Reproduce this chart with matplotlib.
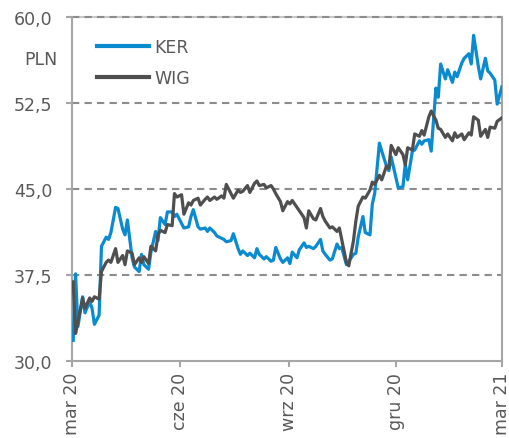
#!/usr/bin/env python3

import pandas as pd
import matplotlib
matplotlib.use("Agg")
import matplotlib.pyplot as plt
from matplotlib.ticker import FuncFormatter

# every second trading day, Mar 2020 - Mar 2021
dates = pd.bdate_range("2020-03-02", "2021-03-01")[::2]

ker = [31.8, 37.6, 33.0, 35.6, 34.2, 35.2, 34.6, 33.2, 34.0, 40.0,
       40.8, 40.6, 41.2, 43.4, 43.3, 41.5, 41.0, 42.3, 39.0, 38.2,
       37.8, 39.3, 38.4, 38.0, 39.5, 41.3, 40.5, 42.5, 41.9, 43.0,
       43.0, 42.6, 42.8, 42.0, 41.6, 41.7, 42.6, 43.2, 41.7, 41.5,
       41.6, 41.3, 41.6, 41.2, 40.9, 40.7, 40.6, 40.4, 40.5, 41.1,
       39.8, 39.3, 39.6, 39.2, 39.4, 39.0, 39.8, 39.3, 38.9, 39.1,
       38.7, 38.8, 39.9, 38.9, 38.6, 39.0, 38.5, 39.5, 39.0, 39.7,
       40.3, 39.9, 40.0, 39.8, 40.0, 40.6, 39.6, 39.3, 38.8, 38.9,
       40.2, 39.8, 39.9, 38.4, 38.7, 39.3, 39.4, 40.8, 42.6, 41.2,
       41.0, 43.7, 44.6, 49.0, 48.3, 47.0, 46.6, 47.8, 46.0, 45.1,
       45.2, 47.2, 45.8, 48.3, 48.4, 49.2, 48.9, 49.2, 49.3, 48.3,
       53.8, 53.0, 55.9, 54.6, 55.4, 54.3, 55.2, 54.8, 56.0, 56.4,
       56.8, 55.9, 58.4, 55.7, 54.6, 56.4, 55.3, 55.1, 54.5, 52.4,
       53.9]

wig = [36.9, 32.4, 33.4, 35.5, 34.6, 35.5, 35.2, 35.6, 35.4, 37.8,
       38.6, 38.8, 38.6, 39.8, 38.6, 39.2, 38.4, 39.6, 39.4, 38.4,
       39.0, 38.6, 39.1, 38.5, 40.0, 39.6, 41.0, 41.4, 41.2, 41.9,
       41.8, 44.6, 44.3, 44.5, 42.8, 43.8, 43.6, 44.0, 44.2, 43.6,
       44.1, 44.3, 44.0, 44.3, 44.1, 44.4, 44.2, 45.4, 44.6, 44.2,
       44.9, 44.7, 44.8, 45.3, 44.7, 45.5, 45.7, 45.3, 45.4, 45.1,
       45.3, 45.0, 44.6, 43.9, 43.1, 43.9, 43.7, 44.0, 43.4, 43.1,
       42.5, 41.6, 43.1, 42.4, 42.3, 43.3, 42.6, 42.2, 41.6, 41.7,
       41.3, 41.6, 40.6, 38.6, 38.3, 40.5, 42.2, 43.5, 44.3, 44.2,
       44.9, 45.6, 45.4, 46.2, 45.8, 47.0, 46.8, 48.8, 48.0, 48.6,
       48.0, 47.1, 48.6, 48.4, 49.8, 49.6, 50.1, 49.7, 51.3, 51.8,
       51.0, 50.3, 50.2, 49.5, 49.8, 49.2, 49.9, 49.5, 49.8, 49.3,
       49.9, 49.7, 51.3, 51.0, 49.6, 50.2, 49.5, 50.4, 50.3, 50.9,
       51.2]

x_ticks = ["2020-03-01", "2020-06-01", "2020-09-01", "2020-12-01", "2021-03-01"]
x_labels = ["mar 20", "cze 20", "wrz 20", "gru 20", "mar 21"]
y_ticks = [30.0, 37.5, 45.0, 52.5, 60.0]

ker_color = "#0a8bd0"
wig_color = "#4f4f4f"
text_color = "#595959"
axis_color = "#a6a6a6"
grid_color = "#8c8c8c"

plt.rcParams["font.family"] = ["DejaVu Sans"]

fig = plt.figure(figsize=(5.09, 4.39), dpi=100)
ax = fig.add_axes([0.1415, 0.1754, 0.8445, 0.7836])

ax.plot(dates, ker, color=ker_color, linewidth=2.3, label="KER", zorder=3)
ax.plot(dates, wig, color=wig_color, linewidth=2.3, label="WIG", zorder=4)

ax.set_xlim(pd.Timestamp("2020-03-01"), pd.Timestamp("2021-03-01"))
ax.set_ylim(30, 60)

ax.set_xticks([pd.Timestamp(d) for d in x_ticks])
ax.set_xticklabels(x_labels, rotation=90, va="top", ha="center")
ax.set_yticks(y_ticks)
ax.yaxis.set_major_formatter(FuncFormatter(lambda v, p: f"{v:.1f}".replace(".", ",")))

# dashed horizontal gridlines only
for v in y_ticks[1:]:
    ax.axhline(v, color=grid_color, linestyle=(0, (3.5, 2.5)), linewidth=1.5,
               zorder=2, clip_on=False)

for name, spine in ax.spines.items():
    spine.set_color(axis_color)
    spine.set_linewidth(1.5)
# the top edge is a faint solid line under the dashed 60,0 gridline
ax.spines["top"].set_color("#c8c8c8")
ax.spines["top"].set_zorder(1)

ax.tick_params(axis="both", direction="out", length=4, width=1.5, colors=axis_color,
               labelcolor=text_color, labelsize=12.5)
ax.tick_params(axis="y", pad=10)
ax.tick_params(axis="x", pad=4)

ax.text(-0.072, 0.878, "PLN", transform=ax.transAxes, ha="center", va="center",
        fontsize=12.5, color=text_color)

leg = ax.legend(loc="upper left", bbox_to_anchor=(0.058, 0.94), frameon=False,
                borderpad=0, borderaxespad=0, handlelength=3.0, handletextpad=0.3,
                labelspacing=0.78, fontsize=12.5)
for t in leg.get_texts():
    t.set_color(text_color)
for h in leg.legend_handles:
    h.set_linewidth(3)

plt.savefig("out.png", dpi=100)
